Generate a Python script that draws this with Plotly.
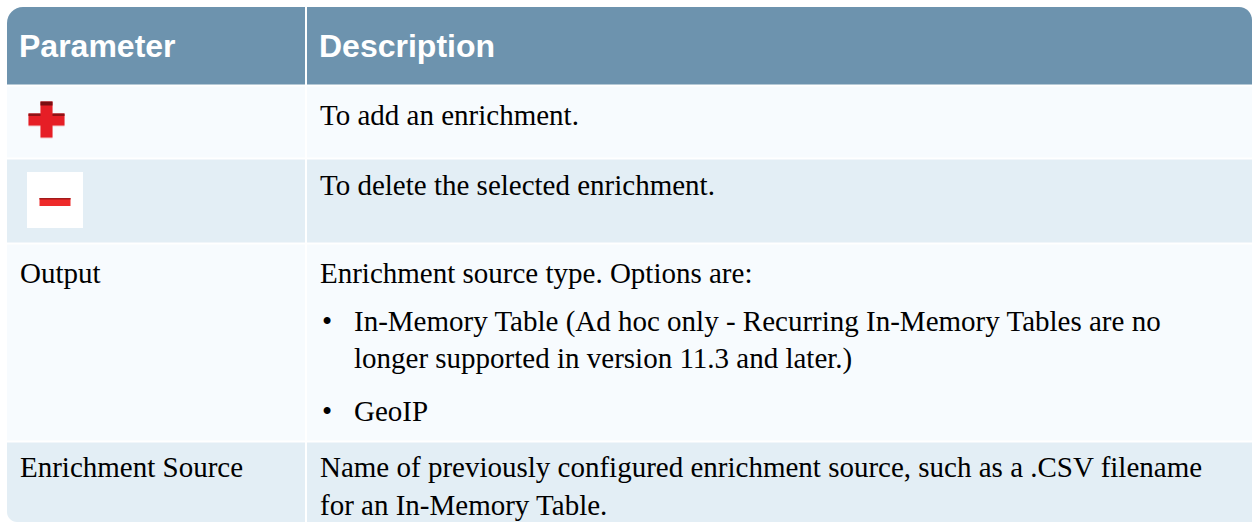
import plotly.graph_objects as go

# ---------------- content ----------------
header_labels = ["Parameter", "Description"]
param_labels = ["", "", "Output", "Enrichment Source"]   # first two rows use icons (add / delete)
param_icons = ["add", "delete", None, None]
desc_row1 = ["To add an enrichment."]
desc_row2 = ["To delete the selected enrichment."]
desc_row3_intro = ["Enrichment source type. Options are:"]
desc_row3_bullets = [
    ["In-Memory Table (Ad hoc only - Recurring In-Memory Tables are no",
     "longer supported in version 11.3 and later.)"],
    ["GeoIP"],
]
desc_row4 = ["Name of previously configured enrichment source, such as a .CSV filename",
             "for an In-Memory Table."]

# ---------------- styling / layout ----------------
W, H = 1252, 523
HEADER_BG = "#6D93AE"
ROW_LIGHT = "#F7FBFE"
ROW_ALT = "#E3EEF5"
SANS = "Liberation Sans, Arial, sans-serif"
SERIF = "Liberation Serif, Times New Roman, serif"
HEAD_FS = 32
BODY_FS = 29
LEFT, RIGHT = 7, 1252
SPLIT = 306
GAP = 1.0  # half gap
rows_y = [(7, 84.5), (86.5, 157.5), (159.5, 242.5), (244.5, 440.5), (442.5, 522)]
rows_fill = [HEADER_BG, ROW_LIGHT, ROW_ALT, ROW_LIGHT, ROW_ALT]
X_PARAM_HEAD = 17
X_DESC_HEAD = 317
X_PARAM = 18
X_DESC = 318
X_BULLET = 327
X_BULLET_TEXT = 352

K = 0.5523


def rr_path(x0, y0, x1, y1, tl=0, tr=0, br=0, bl=0):
    p = f"M {x0+tl},{y0} L {x1-tr},{y0} "
    if tr:
        p += f"C {x1-tr+tr*K},{y0} {x1},{y0+tr-tr*K} {x1},{y0+tr} "
    p += f"L {x1},{y1-br} "
    if br:
        p += f"C {x1},{y1-br+br*K} {x1-br+br*K},{y1} {x1-br},{y1} "
    p += f"L {x0+bl},{y1} "
    if bl:
        p += f"C {x0+bl-bl*K},{y1} {x0},{y1-bl+bl*K} {x0},{y1-bl} "
    p += f"L {x0},{y0+tl} "
    if tl:
        p += f"C {x0},{y0+tl-tl*K} {x0+tl-tl*K},{y0} {x0+tl},{y0} "
    return p + "Z"


shapes = []
nrows = len(rows_y)
for i, ((y0, y1), fill) in enumerate(zip(rows_y, rows_fill)):
    tl = 16 if i == 0 else 0
    tr = 13 if i == 0 else 0
    bl = 10 if i == nrows - 1 else 0
    shapes.append(dict(type="path", path=rr_path(LEFT, y0, SPLIT - GAP, y1, tl=tl, bl=bl),
                       fillcolor=fill, line=dict(width=0), layer="below"))
    shapes.append(dict(type="path", path=rr_path(SPLIT + GAP, y0, RIGHT, y1, tr=tr),
                       fillcolor=fill, line=dict(width=0), layer="below"))


def rect(x0, y0, x1, y1, color):
    shapes.append(dict(type="rect", x0=x0, y0=y0, x1=x1, y1=y1, fillcolor=color,
                       line=dict(width=0), layer="above"))


def draw_add(cx, cy):
    arm, th = 18, 6
    rect(cx - arm, cy - th + 1, cx + arm, cy + th + 1, "#F3C9CB")
    rect(cx - th, cy - arm + 1, cx + th, cy + arm + 1, "#F3C9CB")
    rect(cx - arm, cy - th, cx + arm, cy + th, "#E61E26")
    rect(cx - th, cy - arm, cx + th, cy + arm, "#E61E26")
    rect(cx - arm, cy - th, cx - th, cy - th + 2.5, "#8E1216")
    rect(cx + th, cy - th, cx + arm, cy - th + 2.5, "#8E1216")
    rect(cx - th, cy - arm, cx + th, cy - arm + 4, "#7A0E12")


def draw_delete(cx, cy):
    rect(cx - 28, cy - 28, cx + 28, cy + 28, "#FFFFFF")
    rect(cx - 15.5, cy - 2, cx + 15.5, cy + 6, "#EE2A2A")
    rect(cx - 15.5, cy - 2, cx + 15.5, cy - 0.5, "#A31A1A")


for i, icon in enumerate(param_icons):
    if icon == "add":
        draw_add(46.5, 119.5)
    elif icon == "delete":
        draw_delete(55, 200)

annotations = []


def txt(x, y_base, s, font, size, color="#000000", bold=False, anchor="left"):
    asc, desc = (0.905, 0.212) if font == SANS else (0.891, 0.216)
    ymid = y_base - (asc - desc) / 2 * size
    annotations.append(dict(x=x, y=ymid, xref="x", yref="y", text=f"<b>{s}</b>" if bold else s,
                            showarrow=False, xanchor=anchor, yanchor="middle",
                            font=dict(family=font, size=size, color=color)))


# header
txt(X_PARAM_HEAD, 56.7, header_labels[0], SANS, HEAD_FS, "#FFFFFF", bold=True)
txt(X_DESC_HEAD, 56.7, header_labels[1], SANS, HEAD_FS, "#FFFFFF", bold=True)

LINE = 38
txt(X_DESC, 125, desc_row1[0], SERIF, BODY_FS)
txt(X_DESC, 195, desc_row2[0], SERIF, BODY_FS)
txt(X_PARAM, 283, param_labels[2], SERIF, BODY_FS)
txt(X_DESC, 283, desc_row3_intro[0], SERIF, BODY_FS)
base = 283 + 48
for bullet in desc_row3_bullets:
    txt(X_BULLET, base, "•", SERIF, BODY_FS, anchor="center")
    for j, line in enumerate(bullet):
        txt(X_BULLET_TEXT, base + j * 37.5, line, SERIF, BODY_FS)
    base += (len(bullet) - 1) * 37.5 + 52
txt(X_PARAM, 477, param_labels[3], SERIF, BODY_FS)
for j, line in enumerate(desc_row4):
    txt(X_DESC, 477 + j * LINE, line, SERIF, BODY_FS)

fig = go.Figure()
fig.update_layout(
    width=W, height=H, margin=dict(l=0, r=0, t=0, b=0),
    paper_bgcolor="#FFFFFF", plot_bgcolor="#FFFFFF",
    xaxis=dict(range=[0, W], visible=False, fixedrange=True),
    yaxis=dict(range=[H, 0], visible=False, fixedrange=True),
    shapes=shapes, annotations=annotations, showlegend=False,
)
fig.write_html("out.html", config={"displayModeBar": False},
               post_script="document.body.style.margin='0';document.body.style.overflow='hidden';")
